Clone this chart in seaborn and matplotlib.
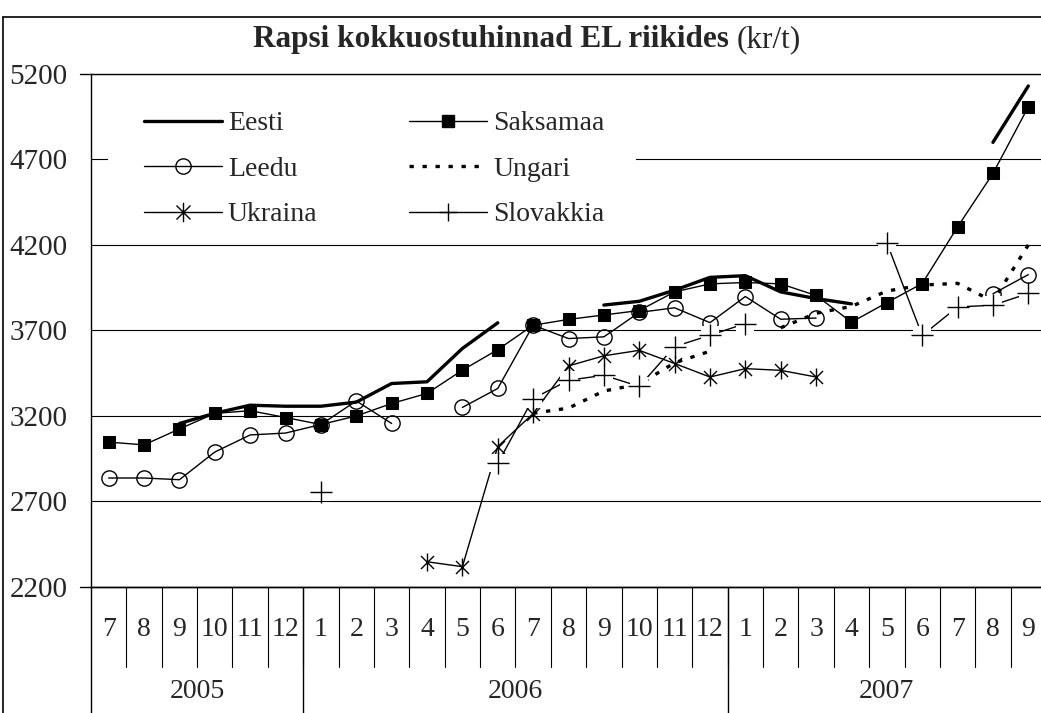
import numpy as np
import pandas as pd
import matplotlib
matplotlib.use("Agg")
import matplotlib.pyplot as plt
import matplotlib.transforms as mtransforms
from matplotlib.lines import Line2D
from matplotlib.path import Path
from matplotlib.patches import Rectangle
import seaborn as sns

# ---------------- data ----------------
months = ['7', '8', '9', '10', '11', '12',
          '1', '2', '3', '4', '5', '6', '7', '8', '9', '10', '11', '12',
          '1', '2', '3', '4', '5', '6', '7', '8', '9']
years = ['2005', '2006', '2007']
year_months = [6, 12, 9]

nan = np.nan
eesti = [nan, nan, 3155, 3215, 3262, 3256, 3256, 3280, 3389, 3399, 3594, 3744,
         nan, nan, 3848, 3870, 3935, 4010, 4020, 3925, 3886, 3855,
         nan, nan, nan, 4800, 5130]
saksamaa = [3046, 3030, 3123, 3214, 3230, 3190, 3149, 3199, 3272, 3331, 3467, 3587,
            3730, 3764, 3790, 3816, 3925, 3972, 3980, 3972, 3904, 3748, 3862, 3974,
            4305, 4618, 5008]
leedu = [2836, 2836, 2826, 2988, 3088, 3099, 3149, 3287, 3155, nan, 3249, 3360,
         3730, 3652, 3662, 3805, 3832, 3745, 3898, 3765, 3772,
         nan, nan, nan, nan, 3914, 4026]
ungari = [nan] * 12 + [3215, 3245, 3345, 3385, 3510, 3578, nan, 3715, 3800, 3840,
                       3930, 3965, 3975, 3870, 4200]
ukraina = [nan] * 9 + [2346, 2317, 3020, 3213, 3492, 3551, 3583, 3506, 3427, 3476,
                       3466, 3427] + [nan] * 6
slovakkia = [nan] * 6 + [2755] + [nan] * 4 + [2922, 3301, 3408, 3437, 3372, 3605,
                                               3671, 3740, nan, nan, nan,
                                               4213, 3670, 3837, 3847, 3916]
series_names = ['Eesti', 'Saksamaa', 'Leedu', 'Ungari', 'Ukraina', 'Slovakkia']

# ---------------- style ----------------
sns.set_style("white")
plt.rcParams['font.family'] = ['Liberation Serif', 'DejaVu Serif']
FS = 20

W, H = 1041, 713
fig = plt.figure(figsize=(W / 100, H / 100), dpi=100)
ax_left, ax_right, ax_top, ax_bot = 91, 1046, 74, 586.7
ax = fig.add_axes([ax_left / W, (H - ax_bot) / H, (ax_right - ax_left) / W, (ax_bot - ax_top) / H])

asterisk = Path([(0, -1), (0, 1), (-0.72, -0.72), (0.72, 0.72), (-0.72, 0.72), (0.72, -0.72)],
                [Path.MOVETO, Path.LINETO] * 3)

styles = {
    'Eesti': dict(color='black', lw=2.4, marker=None),
    'Saksamaa': dict(color='black', lw=1.0, marker='s', markersize=8.5,
                     markerfacecolor='black', markeredgecolor='black'),
    'Leedu': dict(color='black', lw=1.0, marker='o', markersize=11,
                  markerfacecolor='none', markeredgecolor='black', markeredgewidth=1.0),
    'Ungari': dict(color='black', lw=2.4, dashes=(1.3, 2.6), marker=None),
    'Ukraina': dict(color='black', lw=1.0, marker=asterisk, markersize=13,
                    markeredgecolor='black', markeredgewidth=1.0),
    'Slovakkia': dict(color='black', lw=1.0, marker=None),
}
values = dict(zip(series_names, [eesti, saksamaa, leedu, ungari, ukraina, slovakkia]))


def segments(vals):
    segs, cur = [], []
    for i, v in enumerate(vals):
        if np.isnan(v):
            if cur:
                segs.append(cur)
                cur = []
        else:
            cur.append(i)
    if cur:
        segs.append(cur)
    return segs


for z, name in enumerate(series_names):
    vals = np.array(values[name], dtype=float)
    for seg in segments(vals):
        df = pd.DataFrame({'x': seg, 'y': vals[seg]})
        sns.lineplot(data=df, x='x', y='y', ax=ax, legend=False, zorder=3 + z,
                     estimator=None, sort=False, **styles[name])

# Slovakkia markers: white box behind a plus
sl = np.array(slovakkia, dtype=float)
idx = np.where(~np.isnan(sl))[0]
sdf = pd.DataFrame({'x': idx, 'y': sl[idx]})
sns.scatterplot(data=sdf, x='x', y='y', ax=ax, marker='s', s=150, color='white',
                linewidth=0, zorder=9, legend=False)
sns.scatterplot(data=sdf, x='x', y='y', ax=ax, marker='+', s=230, color='black',
                linewidth=1.0, zorder=10, legend=False)

# ---------------- axes ----------------
n = len(months)
ax.set_xlim(-0.5, n - 0.5)
ax.set_ylim(2200, 5200)
ax.set_xlabel('')
ax.set_ylabel('')
ax.set_yticks(np.arange(2200, 5201, 500))
ax.set_yticklabels([str(v) for v in range(2200, 5201, 500)], fontsize=21)
ax.set_xticks(np.arange(n))
ax.set_xticklabels(months, fontsize=FS)
ax.tick_params(axis='x', length=0, pad=22)
ax.tick_params(axis='y', length=0, pad=17)
ax.yaxis.grid(True, color='black', lw=0.8)
ax.xaxis.grid(False)
for s in ['top', 'right']:
    ax.spines[s].set_visible(False)
ax.spines['left'].set_color('black')
ax.spines['left'].set_linewidth(1.0)
ax.spines['bottom'].set_color('black')
ax.spines['bottom'].set_linewidth(1.0)
for yv in (2200, 5200):
    ax.axhline(yv, xmin=-0.012, xmax=1, color='black', lw=1.0, clip_on=False, zorder=12)

# multi-level category axis separators
trans = mtransforms.blended_transform_factory(ax.transData, ax.transAxes)
month_bottom = -(667 - ax_bot) / (ax_bot - ax_top)
year_bottom = -(H - ax_bot) / (ax_bot - ax_top)
year_bounds = np.concatenate([[0], np.cumsum(year_months)]) - 0.5
for k in range(1, n + 1):
    ax.plot([k - 0.5, k - 0.5], [0, month_bottom], transform=trans, color='black',
            lw=0.8, clip_on=False)
for b in year_bounds[:-1]:
    ax.plot([b, b], [0, year_bottom], transform=trans, color='black', lw=1.0, clip_on=False)
year_y = -(691 - ax_bot) / (ax_bot - ax_top)
for i, yr in enumerate(years):
    c = (year_bounds[i] + year_bounds[i + 1]) / 2
    ax.text(c, year_y, yr, transform=trans, ha='center', va='center', fontsize=FS)

# legend (white box hiding gridline)
ax.add_patch(Rectangle(((108 - ax_left) / (ax_right - ax_left), 4650), (636 - 108) / (ax_right - ax_left), 100,
                       transform=mtransforms.blended_transform_factory(ax.transAxes, ax.transData),
                       facecolor='white', edgecolor='none', zorder=2.5))


def handle(name):
    st = dict(styles[name])
    marker = st.pop('marker', None)
    if name == 'Slovakkia':
        marker = '+'
        st.update(markersize=13, markeredgewidth=1.0, markeredgecolor='black')
    if name == 'Ukraina':
        st['markersize'] = 14
    return Line2D([], [], marker=marker, **st)


order = ['Eesti', 'Leedu', 'Ukraina', 'Saksamaa', 'Ungari', 'Slovakkia']
leg = fig.legend([handle(nm) for nm in order], order, loc='upper left',
                 bbox_to_anchor=(144 / W, 1 - 111 / H), ncol=2, frameon=False,
                 fontsize=FS, handlelength=2.8, handletextpad=0.22,
                 columnspacing=3.3, labelspacing=0.72, borderpad=0, borderaxespad=0)

# title
fig.text(729 / W, 1 - 40 / H, 'Rapsi kokkuostuhinnad EL riikides', ha='right', va='center',
         fontsize=22.5, fontweight='bold')
fig.text(737 / W, 1 - 40 / H, '(kr/t)', ha='left', va='center', fontsize=22.5)

# chart-area border (left and top)
fig.add_artist(Line2D([3 / W, 3 / W], [0, 1 - 17 / H], transform=fig.transFigure, color='black', lw=1.2))
fig.add_artist(Line2D([3 / W, 1], [1 - 17 / H, 1 - 17 / H], transform=fig.transFigure, color='black', lw=1.2))

fig.savefig('out.png', dpi=100)
